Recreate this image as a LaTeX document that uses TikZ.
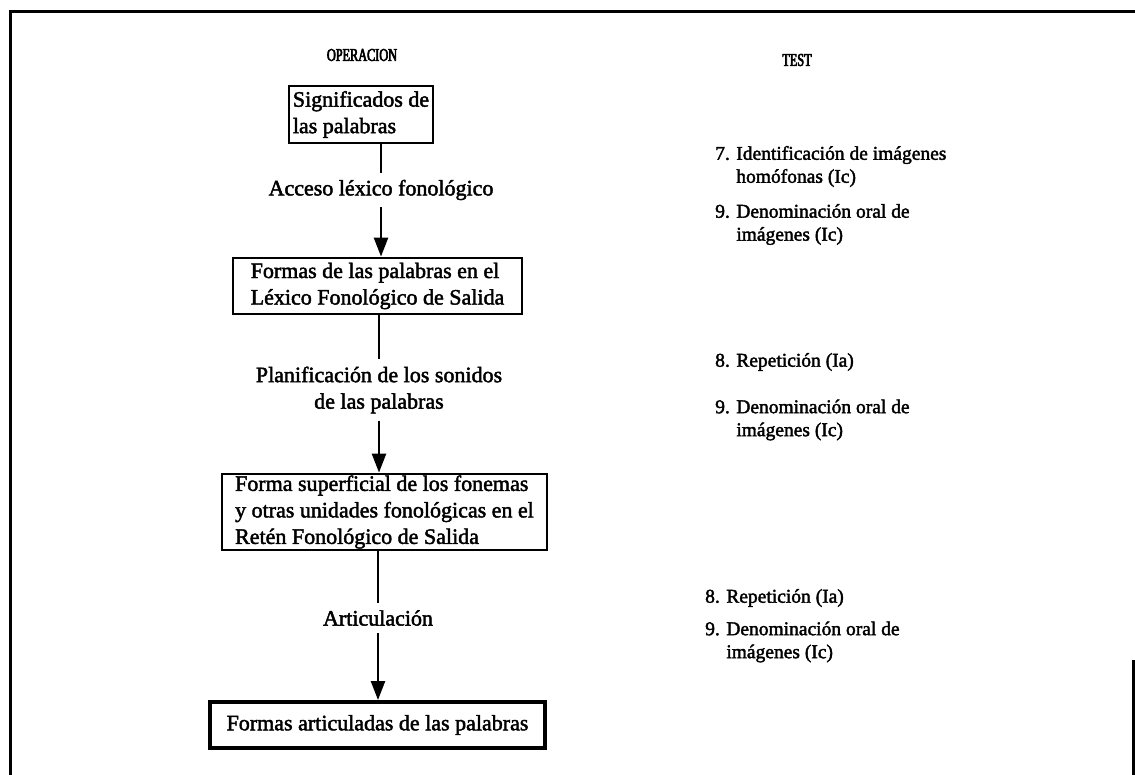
\documentclass[tikz,border=0pt]{standalone}
\usepackage{fontspec}
\setmainfont{Liberation Serif}
\newfontfamily\heavyfont[FakeBold=2]{Liberation Serif}
\newfontfamily\hdrfont[FakeStretch=0.68,FakeBold=3.5]{Liberation Serif}
\usetikzlibrary{arrows.meta}
\newcommand{\boxfont}{\heavyfont\fontsize{22}{26.5}\selectfont}
\newcommand{\testfont}{\heavyfont\fontsize{19.5}{23}\selectfont}
\begin{document}
\begin{tikzpicture}[x=1pt,y=-1pt,
  frameline/.style={line width=3pt},
  box/.style={draw, line width=2.8pt, align=left, inner sep=0pt, font=\boxfont},
  lbl/.style={align=center, inner xsep=2pt, inner ysep=7pt, font=\boxfont},
  conn/.style={line width=2.5pt},
  arr/.style={line width=2.5pt, -{Triangle[length=19pt,width=14pt]}},
  testitem/.style={anchor=west, align=left, inner sep=0pt, font=\testfont},
  hdr/.style={font=\hdrfont\fontsize{18}{20}\selectfont, inner sep=0pt}]
\useasboundingbox (0,0) rectangle (1135,775);
% outer frame
\draw[frameline] (10,775) -- (10,12) -- (1135,12);
\draw[frameline] (1133,660) -- (1133,775);
% headers
\node[hdr] (hop) at (362,55) {OPERACION};
\node[hdr] (htest) at (797,60) {TEST};
% operation boxes
\node[box, minimum width=144pt, minimum height=57pt] (b1) at (361,114.5)
  {Significados de\\las palabras};
\node[box, minimum width=289pt, minimum height=56pt] (b2) at (377.5,286)
  {Formas de las palabras en el\\Léxico Fonológico de Salida};
\node[box, minimum width=325pt, minimum height=76pt] (b3) at (384.5,512)
  {Forma superficial de los fonemas\\y otras unidades fonológicas en el\\Retén Fonológico de Salida};
\node[box, line width=4pt, minimum width=335pt, minimum height=46pt] (b4) at (377.5,725)
  {Formas articuladas de las palabras};
% connector labels
\node[lbl] (l1) at (381,190) {Acceso léxico fonológico};
\node[lbl] (l2) at (379,390) {Planificación de los sonidos\\de las palabras};
\node[lbl] (l3) at (378,618) {Articulación};
% connectors
\draw[conn] (l1 |- b1.south) -- (l1.north);
\draw[arr] (l1.south) -- (l1 |- b2.north);
\draw[conn] (l2 |- b2.south) -- (l2.north);
\draw[arr] (l2.south) -- (l2 |- b3.north);
\draw[conn] (l3 |- b3.south) -- (l3.north);
\draw[arr] (l3.south) -- (l3 |- b4.north);
% tests
\node[testitem] (t1) at (715,166.5) {7. Identificación de imágenes\\\phantom{7. }homófonas (Ic)};
\node[testitem] (t2) at (715,224.5) {9. Denominación oral de\\\phantom{9. }imágenes (Ic)};
\node[testitem] (t3) at (715,362) {8. Repetición (Ia)};
\node[testitem] (t4) at (715,420) {9. Denominación oral de\\\phantom{9. }imágenes (Ic)};
\node[testitem] (t5) at (705,598) {8. Repetición (Ia)};
\node[testitem] (t6) at (705,642) {9. Denominación oral de\\\phantom{9. }imágenes (Ic)};
\end{tikzpicture}
\end{document}
